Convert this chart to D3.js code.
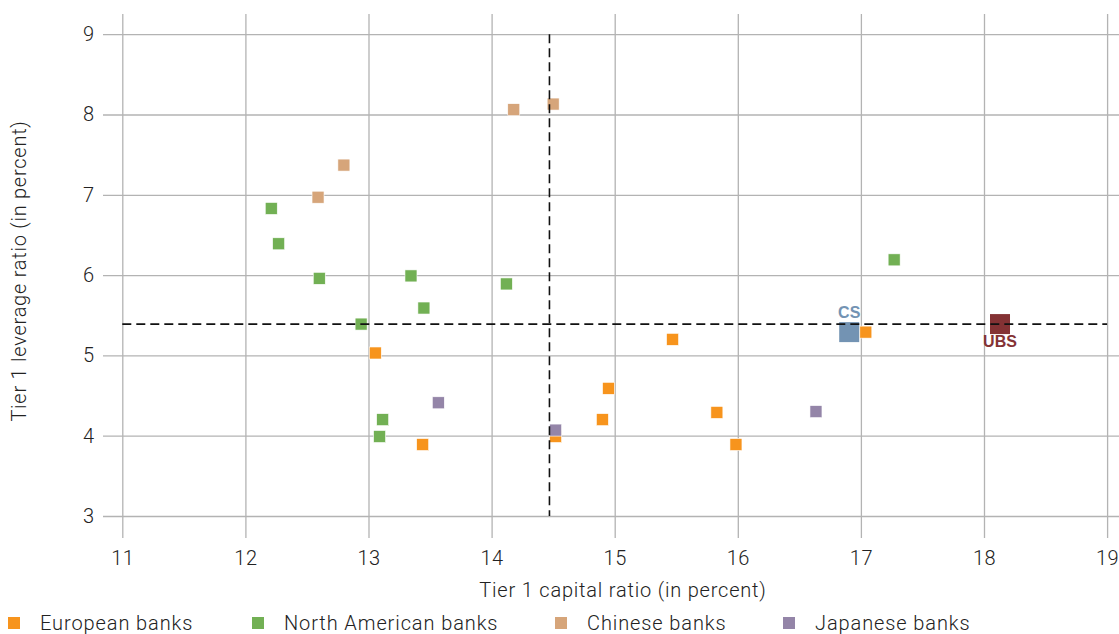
<!DOCTYPE html>
<html>
<head>
<meta charset="utf-8">
<script src="https://cdn.jsdelivr.net/npm/d3@7"></script>
<style>
  html, body { margin: 0; padding: 0; background: #fff; }
  svg { display: block; }
  text { font-family: Roboto, "Liberation Sans", sans-serif; font-weight: 300; fill: #222; }
</style>
</head>
<body>
<svg id="chart" width="1119" height="634"></svg>
<script>
// ---- data ----
const xTicks = [11, 12, 13, 14, 15, 16, 17, 18, 19];
const yTicks = [3, 4, 5, 6, 7, 8, 9];
const xLabel = "Tier 1 capital ratio (in percent)";
const yLabel = "Tier 1 leverage ratio (in percent)";
const seriesNames = ["European banks", "North American banks", "Chinese banks", "Japanese banks"];
const seriesColors = ["#f7941d", "#72b054", "#d6a57a", "#9485a8"];
const europeanBanks = [[13.055,5.03],[13.44,3.89],[14.52,3.99],[14.90,4.20],[14.95,4.59],[15.47,5.20],[15.83,4.29],[15.985,3.89],[17.04,5.29]];
const northAmericanBanks = [[12.21,6.83],[12.27,6.39],[12.60,5.96],[12.94,5.39],[13.09,3.99],[13.115,4.20],[13.345,5.99],[13.45,5.59],[14.12,5.89],[17.27,6.19]];
const chineseBanks = [[12.59,6.97],[12.80,7.37],[14.18,8.06],[14.50,8.13]];
const japaneseBanks = [[13.567,4.41],[14.52,4.07],[16.635,4.30]];
const highlightNames = ["CS", "UBS"];
const highlightValues = [[16.905,5.29],[18.13,5.39]];
const highlightColors = ["#7393b3", "#843234"];
const medianCapital = 14.47;
const medianLeverage = 5.39;

// ---- layout ----
const svg = d3.select("#chart");
const x = d3.scaleLinear().domain([11, 19]).range([122.3, 1107.1]);
const y = d3.scaleLinear().domain([3, 9]).range([516, 34.2]);

const gridColor = "#b3b3b3";
const fontStack = "Roboto, 'Liberation Sans', sans-serif";

// x axis with vertical gridlines
const gx = svg.append("g").attr("transform", "translate(0,538)")
  .call(d3.axisBottom(x).tickValues(xTicks).tickSizeInner(-(538 - 14)).tickSizeOuter(0).tickPadding(13).tickFormat(d3.format("d")));
gx.select(".domain").remove();
gx.selectAll(".tick line").attr("stroke", gridColor).attr("stroke-width", 1.3);
gx.selectAll(".tick text").attr("font-size", 20).attr("font-family", fontStack).attr("font-weight", 300)
  .attr("fill", "#222").attr("letter-spacing", 0.5);

// y axis with horizontal gridlines
const gy = svg.append("g").attr("transform", "translate(103,0)")
  .call(d3.axisLeft(y).tickValues(yTicks).tickSizeInner(-(1119 - 103)).tickSizeOuter(0).tickPadding(9).tickFormat(d3.format("d")));
gy.select(".domain").remove();
gy.selectAll(".tick line").attr("stroke", gridColor).attr("stroke-width", 1.3);
gy.selectAll(".tick text").attr("font-size", 20).attr("font-family", fontStack).attr("font-weight", 300).attr("fill", "#222");

// axis titles
svg.append("text").attr("x", 623).attr("y", 597).attr("text-anchor", "middle")
  .attr("font-size", 20).attr("letter-spacing", 0.8).text(xLabel);
svg.append("text").attr("transform", "translate(26,271) rotate(-90)").attr("text-anchor", "middle")
  .attr("font-size", 20).attr("letter-spacing", 0.75).text(yLabel);

// points
const allSeries = [europeanBanks, northAmericanBanks, chineseBanks, japaneseBanks];
const sz = 12;
const drawOrder = [2, 1, 0, 3];
drawOrder.forEach(i => {
  svg.append("g").selectAll("rect").data(allSeries[i]).join("rect")
    .attr("x", d => x(d[0]) - sz / 2).attr("y", d => y(d[1]) - sz / 2)
    .attr("width", sz).attr("height", sz)
    .attr("fill", seriesColors[i]).attr("stroke", "#fff").attr("stroke-width", 0.6);
});

// highlighted banks
const hs = 20;
highlightValues.forEach((d, i) => {
  svg.append("rect").attr("x", x(d[0]) - hs / 2).attr("y", y(d[1]) - hs / 2)
    .attr("width", hs).attr("height", hs).attr("fill", highlightColors[i]);
});

// dashed median lines (on top)
svg.append("line").attr("x1", x(medianCapital)).attr("x2", x(medianCapital))
  .attr("y1", y(9)).attr("y2", y(3))
  .attr("stroke", "#111").attr("stroke-width", 1.6).attr("stroke-dasharray", "9,5");
svg.append("line").attr("x1", x(11)).attr("x2", x(19))
  .attr("y1", y(medianLeverage)).attr("y2", y(medianLeverage))
  .attr("stroke", "#111").attr("stroke-width", 1.6).attr("stroke-dasharray", "9,5");

// highlight labels
highlightValues.forEach((d, i) => {
  const above = i === 0;
  svg.append("text").attr("x", x(d[0])).attr("y", above ? y(d[1]) - 14 : y(d[1]) + 23)
    .attr("text-anchor", "middle").attr("font-size", 16)
    .style("font-family", "'Liberation Sans', Arial, sans-serif")
    .style("fill", highlightColors[i]).style("font-weight", 700)
    .text(highlightNames[i]);
});

// legend
const legendX = [14, 258, 561, 789];
const legend = svg.append("g");
seriesNames.forEach((name, i) => {
  legend.append("rect").attr("x", legendX[i] - 6).attr("y", 617).attr("width", 12).attr("height", 12)
    .attr("fill", seriesColors[i]);
  legend.append("text").attr("x", legendX[i] + 26).attr("y", 630).attr("font-size", 20)
    .attr("letter-spacing", 0.9).text(name);
});
</script>
</body>
</html>
